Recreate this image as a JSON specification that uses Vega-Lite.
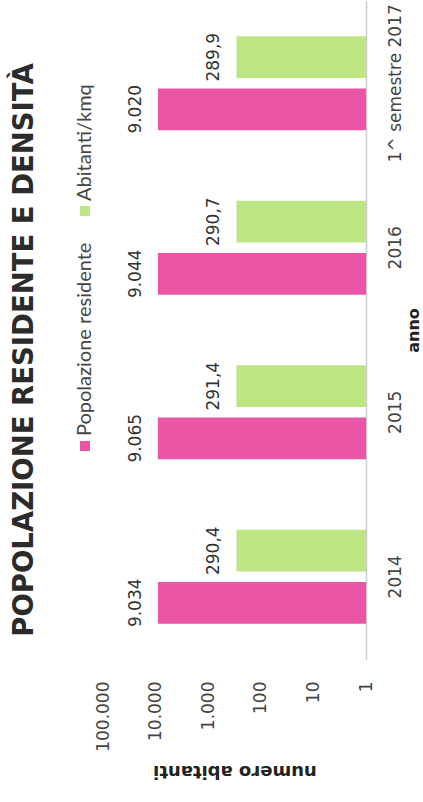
{
  "$schema": "https://vega.github.io/schema/vega-lite/v6.json",
  "width": 263,
  "height": 658,
  "padding": {"left": 10, "top": 1, "right": 0, "bottom": 20},
  "background": "white",
  "title": {
    "text": "POPOLAZIONE RESIDENTE E DENSITÀ",
    "orient": "left",
    "anchor": "middle",
    "font": "DejaVu Sans",
    "fontSize": 27.5,
    "fontWeight": "bold",
    "color": "#2b2b2b",
    "offset": 38,
    "dx": -20
  },
  "config": {
    "view": {"stroke": null},
    "locale": {"number": {"decimal": ",", "thousands": ".", "grouping": [3], "currency": ["€", ""]}}
  },
  "data": {
    "values": [
      {"anno": "2014", "serie": "Popolazione residente", "valore": 9034},
      {"anno": "2014", "serie": "Abitanti/kmq", "valore": 290.4},
      {"anno": "2015", "serie": "Popolazione residente", "valore": 9065},
      {"anno": "2015", "serie": "Abitanti/kmq", "valore": 291.4},
      {"anno": "2016", "serie": "Popolazione residente", "valore": 9044},
      {"anno": "2016", "serie": "Abitanti/kmq", "valore": 290.7},
      {"anno": "1^ semestre 2017", "serie": "Popolazione residente", "valore": 9020},
      {"anno": "1^ semestre 2017", "serie": "Abitanti/kmq", "valore": 289.9}
    ]
  },
  "encoding": {
    "y": {
      "field": "anno",
      "type": "nominal",
      "sort": ["1^ semestre 2017", "2016", "2015", "2014"],
      "scale": {"paddingInner": 0.43, "paddingOuter": 0.215},
      "axis": {
        "orient": "right",
        "title": "anno",
        "titleAngle": 270,
        "titleFont": "DejaVu Sans",
        "titleFontSize": 16,
        "titleFontWeight": "bold",
        "titleColor": "#222",
        "titlePadding": 18,
        "labelAngle": 270,
        "labelAlign": "center",
        "labelBaseline": "top",
        "labelPadding": 21,
        "labelFont": "DejaVu Sans",
        "labelFontSize": 17,
        "labelColor": "#444",
        "ticks": false,
        "domainColor": "#cccccc",
        "domainWidth": 1.5,
        "grid": false
      }
    },
    "x": {
      "field": "valore",
      "type": "quantitative",
      "scale": {"type": "log", "domain": [1, 100000], "reverse": true},
      "axis": {
        "orient": "bottom",
        "values": [1, 10, 100, 1000, 10000, 100000],
        "format": ",",
        "title": "numero abitanti",
        "titleAngle": 180,
        "titleFont": "DejaVu Sans",
        "titleFontSize": 18,
        "titleFontWeight": "bold",
        "titleColor": "#222",
        "titlePadding": 28,
        "labelAngle": 270,
        "labelAlign": "right",
        "labelBaseline": "middle",
        "labelPadding": 22,
        "labelFont": "DejaVu Sans",
        "labelFontSize": 17,
        "labelColor": "#444",
        "ticks": false,
        "domain": false,
        "grid": false
      }
    },
    "yOffset": {"field": "serie", "type": "nominal", "scale": {"paddingInner": 0.2}}
  },
  "layer": [
    {
      "mark": {"type": "bar"},
      "encoding": {
        "x2": {"datum": 1},
        "color": {
          "field": "serie",
          "type": "nominal",
          "scale": {"domain": ["Abitanti/kmq", "Popolazione residente"], "range": ["#bde584", "#ea55a5"]},
          "legend": {
            "orient": "left",
            "direction": "vertical",
            "title": null,
            "symbolType": "square",
            "symbolSize": 100,
            "symbolStrokeWidth": 0,
            "labelFont": "Lato",
            "labelFontSize": 20,
            "labelColor": "#444",
            "labelLimit": 400,
            "offset": 8,
            "rowPadding": 20,
            "encode": {
              "symbols": {
                "update": {
                  "x": {"value": 9},
                  "y": {"value": 210}
                }
              },
              "labels": {
                "update": {
                  "angle": {"value": 270},
                  "align": {"value": "left"},
                  "baseline": {"value": "middle"},
                  "x": {"value": 9},
                  "y": {"value": 200}
                }
              }
            }
          }
        }
      }
    },
    {
      "transform": [{"filter": "datum.serie === 'Popolazione residente'"}],
      "mark": {"type": "text", "angle": 270, "align": "center", "baseline": "alphabetic", "dy": -17, "font": "DejaVu Sans", "fontSize": 17, "color": "#333"},
      "encoding": {"text": {"field": "valore", "type": "quantitative", "format": ","}}
    },
    {
      "transform": [{"filter": "datum.serie === 'Abitanti/kmq'"}],
      "mark": {"type": "text", "angle": 270, "align": "center", "baseline": "alphabetic", "dy": -17, "font": "DejaVu Sans", "fontSize": 17, "color": "#333"},
      "encoding": {"text": {"field": "valore", "type": "quantitative", "format": ",.1f"}}
    }
  ]
}
